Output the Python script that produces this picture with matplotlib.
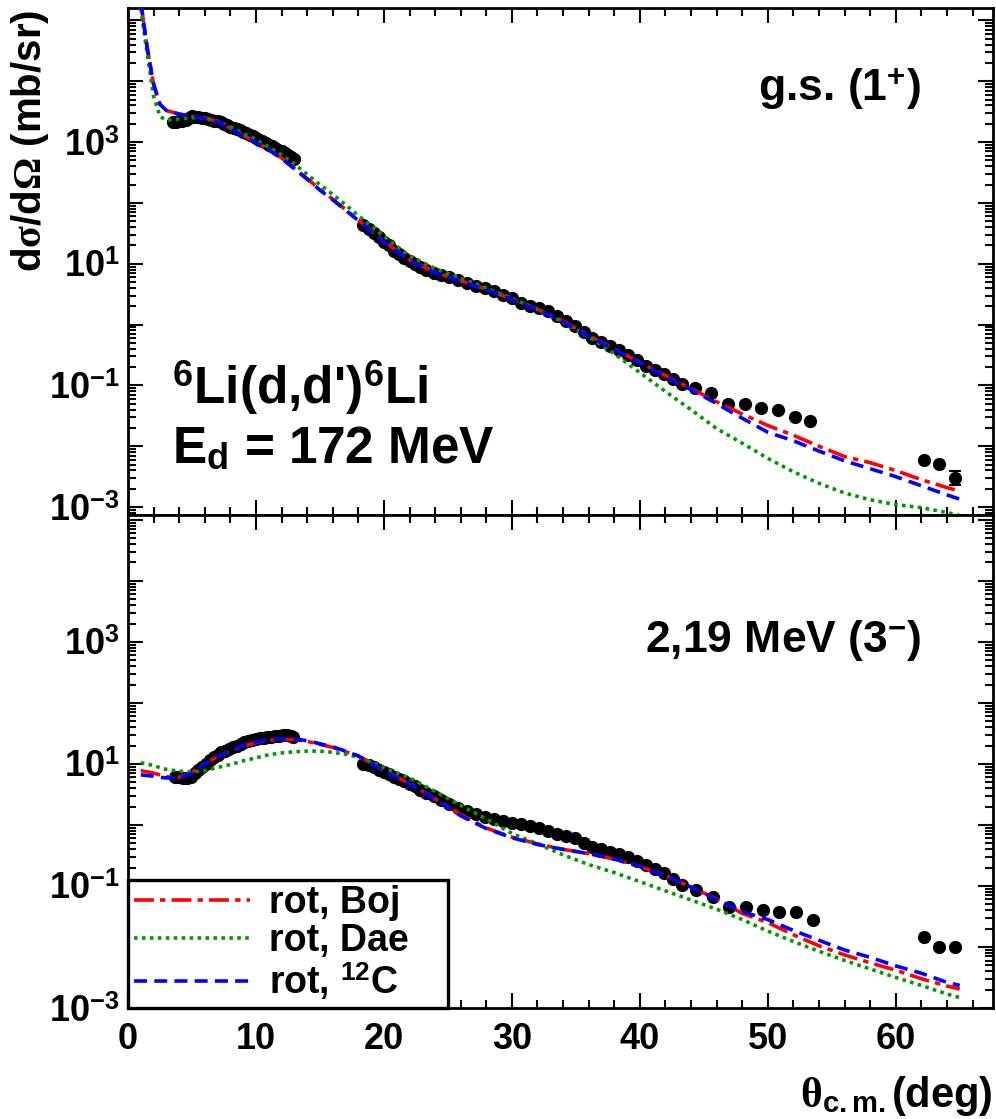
import matplotlib.pyplot as plt
import numpy as np
from matplotlib.ticker import FixedLocator, LogLocator, FuncFormatter, MultipleLocator, NullFormatter

plt.rcParams['font.family'] = 'Liberation Sans'
plt.rcParams['font.weight'] = 'bold'
plt.rcParams['mathtext.fontset'] = 'custom'
plt.rcParams['mathtext.bf'] = 'Liberation Sans:bold'
plt.rcParams['mathtext.rm'] = 'Liberation Serif'
plt.rcParams['mathtext.it'] = 'Liberation Serif'

# ---- measured cross sections, ground state (1+) ----
theta_gs = [3.5, 3.75, 4.0, 4.25, 4.5, 4.75, 5.0, 5.25, 5.5, 5.75, 6.0, 6.25, 6.5, 6.75,
            7.0, 7.25, 7.5, 7.75, 8.0, 8.25, 8.5, 8.75, 9.0, 9.25, 9.5, 9.75, 10.0, 10.25,
            10.5, 10.75, 11.0, 11.25, 11.5, 11.75, 12.0, 12.25, 12.5, 12.75, 13.0,
            18.4, 18.8, 19.2, 19.6, 20.0, 20.4, 20.8, 21.2, 21.6, 22.0, 22.4, 22.8, 23.3,
            23.9, 24.5, 25.1, 25.8, 26.5, 27.2, 27.9, 28.6, 29.3, 30.0, 30.7, 31.4, 32.1,
            32.8, 33.5, 34.2, 34.9, 35.6, 36.3, 37.0, 37.7, 38.4, 39.1, 39.8, 40.5, 41.2,
            41.9, 42.6, 43.3, 44.3, 45.6, 46.9, 48.2, 49.5, 50.8, 52.1, 53.3,
            62.2, 63.4, 64.6]
xs_gs = [2100, 2150, 2200, 2250, 2350, 2500, 2650, 2600, 2550, 2500, 2450, 2400, 2350, 2250,
         2200, 2100, 2000, 1900, 1800, 1720, 1640, 1550, 1470, 1400, 1320, 1240, 1170, 1100,
         1030, 970, 910, 860, 800, 750, 700, 650, 610, 570, 530,
         43, 37, 32, 27, 23, 20, 16.5, 14.5, 12.5, 11, 9.8, 8.8, 7.9,
         7.1, 6.6, 6.1, 5.4, 4.8, 4.3, 4.0, 3.6, 3.1, 2.7, 2.3, 2.05, 1.85,
         1.65, 1.4, 1.15, 0.95, 0.75, 0.6, 0.52, 0.44, 0.38, 0.32, 0.26, 0.21, 0.18,
         0.155, 0.125, 0.105, 0.091, 0.076, 0.049, 0.049, 0.042, 0.039, 0.030, 0.026,
         0.0060, 0.0051, 0.0030]

# ---- measured cross sections, 2.19 MeV (3-) ----
theta_ex = [3.7, 4.0, 4.3, 4.6, 4.9, 5.2, 5.5, 5.8, 6.1, 6.4, 6.7, 7.0, 7.3, 7.6, 7.9, 8.2,
            8.5, 8.8, 9.1, 9.4, 9.7, 10.0, 10.3, 10.6, 10.9, 11.2, 11.5, 11.8, 12.1, 12.4,
            12.7, 12.9,
            18.4, 18.8, 19.2, 19.6, 20.0, 20.4, 20.8, 21.2, 21.6, 22.0, 22.4, 22.8, 23.3,
            23.9, 24.5, 25.1, 25.8, 26.5, 27.2, 27.9, 28.6, 29.3, 30.0, 30.7, 31.4, 32.1,
            32.8, 33.5, 34.2, 34.9, 35.6, 36.3, 37.0, 37.7, 38.4, 39.1, 39.8, 40.5, 41.2,
            41.9, 42.6, 43.3, 44.4, 45.7, 47.0, 48.3, 49.6, 50.9, 52.2, 53.5,
            62.2, 63.4, 64.6]
xs_ex = [6.2, 6.0, 5.8, 5.8, 6.2, 7.0, 8.0, 9.0, 10.0, 11.5, 13.0, 14.0, 15.5, 16.5, 17.5, 18.6,
         19.8, 21.0, 22.5, 24.0, 24.8, 25.5, 26.2, 27.0, 27.5, 28.0, 28.5, 29.0, 29.3, 29.5,
         29.0, 28.0,
         10.0, 9.5, 8.8, 8.0, 7.4, 6.8, 6.2, 5.7, 5.2, 4.7, 4.3, 3.8, 3.4,
         3.0, 2.6, 2.2, 1.9, 1.7, 1.5, 1.35, 1.25, 1.15, 1.08, 1.03, 0.97, 0.90,
         0.80, 0.72, 0.66, 0.60, 0.50, 0.43, 0.40, 0.36, 0.33, 0.30, 0.26, 0.22, 0.19,
         0.165, 0.13, 0.105, 0.087, 0.066, 0.046, 0.046, 0.041, 0.038, 0.038, 0.028,
         0.0145, 0.010, 0.010]

# ---- rotational-model calculations (log10 of mb/sr) ----
theta_calc = [1.0, 1.5, 2.0, 2.5, 3, 4, 5, 6, 7, 8, 9, 10, 11, 12, 13, 14, 15, 16, 17, 18, 19,
              20, 22, 24, 26, 28, 30, 32, 34, 36, 38, 40, 42, 44, 46, 48, 50, 52, 54, 56, 58,
              60, 62, 64, 65]

gs_boj = [5.3, 4.55, 3.95, 3.62, 3.52, 3.46, 3.42, 3.40, 3.34, 3.23, 3.11, 3.00, 2.88, 2.74,
          2.57, 2.40, 2.22, 2.06, 1.89, 1.72, 1.54, 1.37, 1.06, 0.86, 0.72, 0.58, 0.42, 0.25,
          0.06, -0.18, -0.40, -0.62, -0.84, -1.05, -1.27, -1.47, -1.66, -1.82, -2.00, -2.17,
          -2.27, -2.40, -2.55, -2.68, -2.74]
gs_dae = [5.2, 4.45, 3.75, 3.42, 3.36, 3.38, 3.40, 3.39, 3.34, 3.25, 3.14, 3.04, 2.92, 2.79,
          2.64, 2.47, 2.30, 2.14, 1.97, 1.79, 1.62, 1.45, 1.13, 0.92, 0.76, 0.60, 0.43, 0.25,
          0.04, -0.20, -0.48, -0.79, -1.10, -1.40, -1.71, -1.95, -2.20, -2.42, -2.61, -2.77,
          -2.88, -2.96, -3.01, -3.09, -3.14]
gs_c12 = [5.3, 4.55, 3.95, 3.62, 3.52, 3.46, 3.42, 3.39, 3.33, 3.22, 3.10, 2.99, 2.87, 2.73,
          2.56, 2.39, 2.21, 2.05, 1.88, 1.71, 1.53, 1.36, 1.05, 0.85, 0.71, 0.57, 0.41, 0.24,
          0.05, -0.19, -0.41, -0.63, -0.85, -1.07, -1.30, -1.54, -1.77, -1.91, -2.08, -2.24,
          -2.37, -2.50, -2.65, -2.80, -2.87]

ex_boj = [0.89, 0.87, 0.85, 0.82, 0.79, 0.78, 0.86, 1.00, 1.12, 1.21, 1.29, 1.35, 1.39, 1.40,
          1.40, 1.37, 1.32, 1.27, 1.20, 1.13, 1.02, 0.89, 0.68, 0.43, 0.17, -0.05, -0.20, -0.31,
          -0.40, -0.47, -0.56, -0.68, -0.83, -1.02, -1.21, -1.45, -1.60, -1.80, -1.98, -2.13,
          -2.26, -2.38, -2.52, -2.64, -2.69]
ex_dae = [1.02, 1.00, 0.97, 0.94, 0.91, 0.88, 0.87, 0.89, 0.94, 0.99, 1.05, 1.10, 1.15, 1.18,
          1.20, 1.21, 1.21, 1.19, 1.16, 1.11, 1.03, 0.94, 0.77, 0.55, 0.32, 0.10, -0.14, -0.31,
          -0.49, -0.65, -0.78, -0.93, -1.08, -1.23, -1.38, -1.55, -1.74, -1.91, -2.07, -2.22,
          -2.36, -2.50, -2.63, -2.77, -2.83]
ex_c12 = [0.82, 0.81, 0.80, 0.78, 0.77, 0.77, 0.85, 1.00, 1.12, 1.22, 1.30, 1.36, 1.40, 1.41,
          1.41, 1.38, 1.33, 1.28, 1.21, 1.13, 1.01, 0.88, 0.67, 0.42, 0.15, -0.06, -0.21, -0.32,
          -0.40, -0.47, -0.56, -0.68, -0.83, -1.02, -1.22, -1.42, -1.55, -1.73, -1.89, -2.05,
          -2.17, -2.31, -2.43, -2.58, -2.63]

labels = ['rot, Boj', 'rot, Dae', 'rot, $^{\\mathbf{12}}$C']
colors = ['#ff0000', '#009900', '#0000ff']
dashes = [(5.5, 1.7, 1.5, 1.7), (1, 1.2), (3.6, 2)]

fig = plt.figure(figsize=(9.96, 11.19), dpi=100)
W, H = 996, 1119
ax1 = fig.add_axes([128 / W, 1 - 515 / H, 865 / W, 507 / H])
ax2 = fig.add_axes([128 / W, 1 - 1008 / H, 865 / W, 493 / H], sharex=ax1)


def decade_label(v, pos):
    e = int(round(np.log10(v)))
    if e % 2 == 0 or e > 3:
        return ''
    return '10$^{\\mathbf{%d}}$' % e


def style(ax):
    ax.set_yscale('log')
    ax.yaxis.set_major_locator(FixedLocator([10.0 ** e for e in range(-3, 6)]))
    ax.yaxis.set_minor_locator(LogLocator(base=10, subs=range(2, 10), numticks=30))
    ax.yaxis.set_major_formatter(FuncFormatter(decade_label))
    ax.yaxis.set_minor_formatter(NullFormatter())
    ax.xaxis.set_major_locator(MultipleLocator(10))
    ax.xaxis.set_minor_locator(MultipleLocator(2))
    ax.tick_params(which='both', direction='in', top=True, right=True, width=1.5,
                   labelsize=26)
    ax.tick_params(which='major', length=11)
    ax.tick_params(which='minor', length=6)
    ax.tick_params(axis='x', pad=10)
    ax.tick_params(axis='y', pad=6)
    for s in ax.spines.values():
        s.set_linewidth(2.0)
    ax.set_xlim(0, 67.6)


for ax, curves, th, xs in [(ax1, [gs_boj, gs_dae, gs_c12], theta_gs, xs_gs),
                           (ax2, [ex_boj, ex_dae, ex_c12], theta_ex, xs_ex)]:
    style(ax)
    for c, lab, col, d in zip(curves, labels, colors, dashes):
        ax.plot(theta_calc, 10.0 ** np.array(c), color=col, lw=2.6, dashes=d, label=lab,
                zorder=3)
    ax.plot(th, xs, 'o', color='black', ms=8.5, zorder=2)

# error bar on the last point of the ground state
ax1.errorbar([theta_gs[-1]], [xs_gs[-1]], yerr=[[0.0007], [0.0009]], fmt='none',
             ecolor='black', elinewidth=1.5, capsize=4, capthick=1.5, zorder=2)

ax1.set_ylim(7.4e-4, 1.6e5)
ax2.set_ylim(1e-3, 1.2e5)
ax1.tick_params(labelbottom=False)

ax1.text(0.917, 0.817, 'g.s. (1$^{\\mathbf{+}}$)', transform=ax1.transAxes,
         ha='right', va='baseline', fontsize=32)
ax1.text(0.051, 0.219, "$^{\\mathbf{6}}$Li(d,d')$^{\\mathbf{6}}$Li", transform=ax1.transAxes,
         ha='left', va='baseline', fontsize=37)
ax1.text(0.051, 0.1026, 'E$_{\\mathbf{d}}$ = 172 MeV', transform=ax1.transAxes,
         ha='left', va='baseline', fontsize=37)
ax2.text(0.917, 0.722, '2,19 MeV (3$^{\\mathbf{-}}$)', transform=ax2.transAxes,
         ha='right', va='baseline', fontsize=32)

fig.text(30 / W, 1 - 10 / H, 'd$\\sigma$/d$\\Omega$ (mb/sr)', rotation=90,
         ha='center', va='top', fontsize=29)
fig.text(993 / W, 1 - 1107 / H, '$\\theta$$_{\\mathbf{c.m.}}$(deg)',
         ha='right', va='baseline', fontsize=30)

leg = ax2.legend(loc='lower left', bbox_to_anchor=(0, 0, 0.37, 0.27), mode='expand',
                 borderaxespad=0, fontsize=27, handlelength=3.1, handletextpad=0.5,
                 labelspacing=0.05, borderpad=0.15, fancybox=False, framealpha=1,
                 edgecolor='black')
leg.get_frame().set_linewidth(2.4)
leg.set_zorder(5)

fig.savefig('out.png', dpi=100)
